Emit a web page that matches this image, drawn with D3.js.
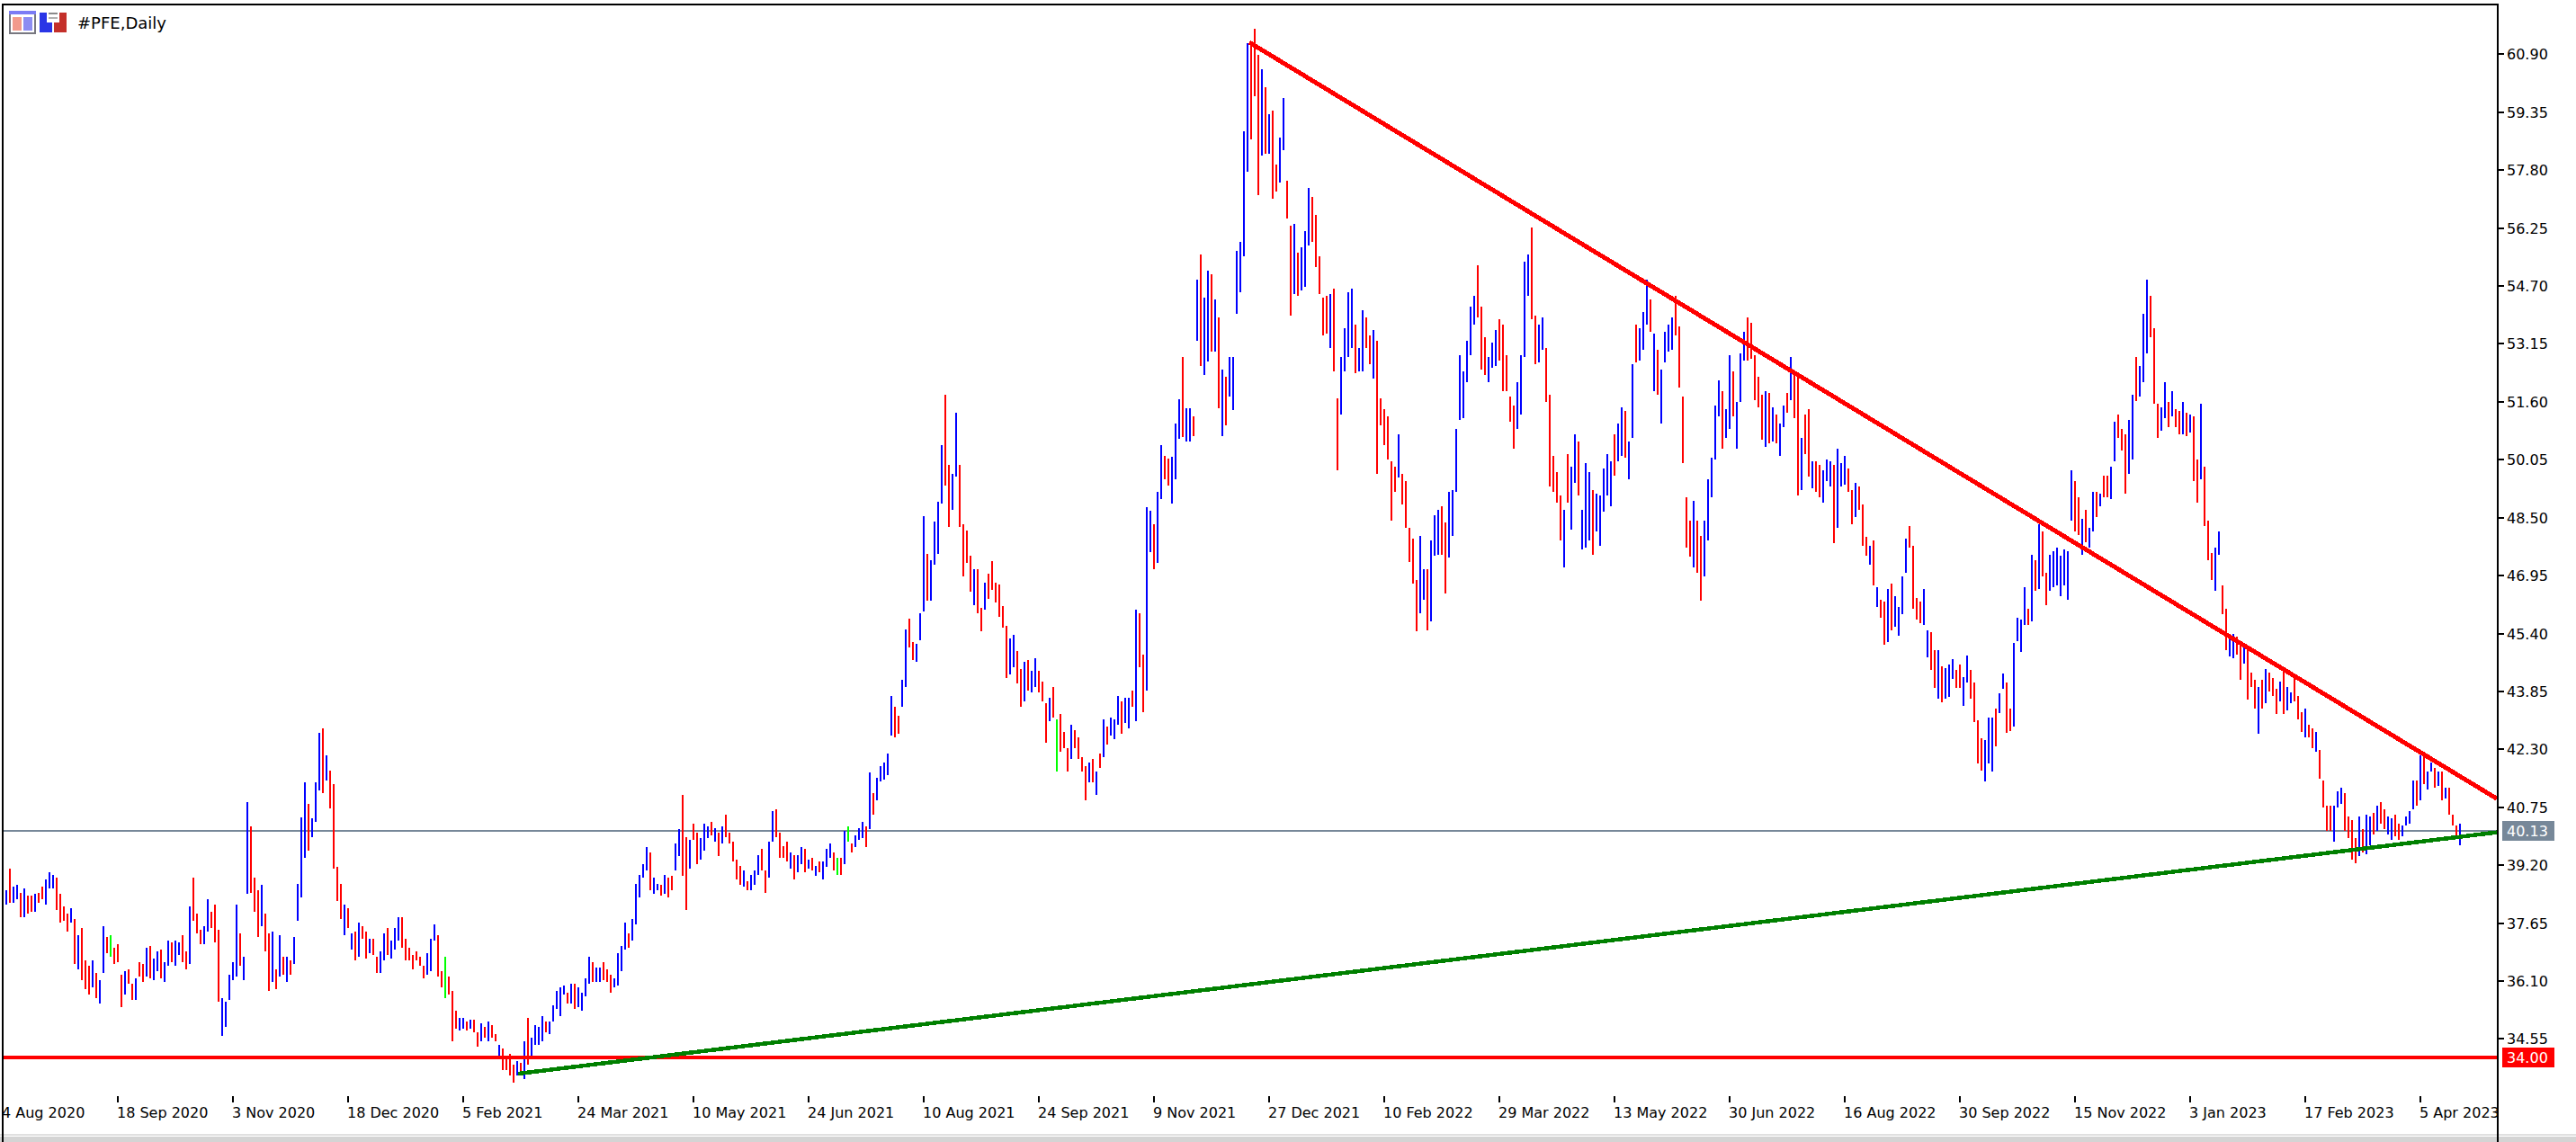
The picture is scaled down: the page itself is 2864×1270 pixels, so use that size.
<!DOCTYPE html>
<html>
<head>
<meta charset="utf-8">
<title>#PFE,Daily</title>
<script src="https://cdn.jsdelivr.net/npm/d3@7"></script>
<style>
    html, body { margin: 0; padding: 0; background: #fff; overflow: hidden; }
    svg { display: block; }
    text { font-family: "DejaVu Sans", sans-serif; font-size: 16px; fill: #000; }
</style>
</head>
<body>
<svg width="2864" height="1270"></svg>
<script>
// **** Values ****

const chartTitle = '#PFE,Daily';

const dateLabels = ['4 Aug 2020', '18 Sep 2020', '3 Nov 2020', '18 Dec 2020', '5 Feb 2021', '24 Mar 2021',
    '10 May 2021', '24 Jun 2021', '10 Aug 2021', '24 Sep 2021', '9 Nov 2021', '27 Dec 2021', '10 Feb 2022',
    '29 Mar 2022', '13 May 2022', '30 Jun 2022', '16 Aug 2022', '30 Sep 2022', '15 Nov 2022', '3 Jan 2023',
    '17 Feb 2023', '5 Apr 2023'];
const barsPerDateLabel = 32;

const priceTicks = [60.90, 59.35, 57.80, 56.25, 54.70, 53.15, 51.60, 50.05, 48.50, 46.95, 45.40, 43.85,
    42.30, 40.75, 39.20, 37.65, 36.10, 34.55];

const lastPrice = 40.13;
const supportLevel = 34.05;
const supportLabel = '34.00';

const resistanceLine = [{bar: 346.5, price: 61.22}, {bar: 693.25, price: 40.98}];
const risingLine = [{bar: 143.2, price: 33.62}, {bar: 693.25, price: 40.08}];

// u = up bar, d = down bar, n = unchanged bar (ten bars a row)
const barDir = [
    'uuduududdu', 'dduuuddddu', 'duddduduud', 'nddduddudd', 'uduuduuduu', 'ddudd'+'duudd', 'duuuuuduud', 'ddudd'+'ududu',
    'duuuuduuud', 'uddddududu', 'ddudduuduu', 'uddddddduu', 'uddnddduud', 'uddududdud', 'dddududuuu', 'uduuuuudud',
    'uuuuduuddd', 'uuuuduuuuu', 'duududduud', 'duddu'+'uudud', 'uddddd'+'uduu', 'uddu'+'uddddu', 'duudu'+'duduu', 'udndu'+'nduuu',
    'duduu'+'uuudd', 'uuddu'+'uuduu', 'uuddu'+'udddd', 'uddud'+'ddddd', 'uuddu'+'duudd', 'dudnd'+'ddudd', 'ddudu'+'duduu', 'uduud'+'udduu',
    'duudd'+'uuudu', 'ududu'+'ududu', 'duuuu'+'uuddd', 'ududd'+'uuddu', 'duuud'+'ddddu', 'dduuu'+'uduud', 'duddd'+'dddud', 'ddddu'+'uduuu',
    'dduuu'+'uuuuu', 'ddduu'+'udddd', 'duuuu'+'dduud', 'ddddu'+'duudu', 'uuduu'+'uuudu', 'uduud'+'uuudu', 'duuuu'+'ddddd', 'udduu'+'uuudu',
    'uduuu'+'ddddd', 'ududu'+'ududd', 'uddud'+'duuud', 'uuudd'+'udddu', 'duddu'+'duuuu', 'ddddu'+'uddud', 'uuudd'+'uuddd', 'duuud'+'uuddu',
    'uuudu'+'duddu', 'uuuuu'+'uddud', 'uudud'+'duudd', 'duudu'+'uuddd', 'uudud'+'dudud', 'duddd'+'uuddu', 'uddud'+'ddudu', 'dddud'+'uuddd',
    'uddud'+'ddduu', 'udddd'+'uduud', 'udduu'+'dduuu', 'ududu'+'ududu', 'dddu'
].join('').split('');

const barHigh = [
    39.00,38.52,39.10,38.62,38.67,38.47,38.57,38.38,38.38,38.43,
    38.47,38.62,38.81,39.00,38.95,38.86,38.43,38.09,37.90,38.04,
    37.75,37.32,37.51,36.65,36.50,36.65,36.31,36.12,37.56,37.27,
    37.32,36.98,37.08,36.26,36.36,36.41,36.02,36.17,36.60,36.55,
    36.98,37.03,36.70,36.89,36.94,36.60,37.18,37.13,37.18,37.13,
    37.32,36.89,38.09,38.86,37.90,37.46,37.56,38.28,37.95,38.14,
    37.46,35.64,35.54,36.26,36.60,38.14,37.37,36.74,40.88,40.25,
    38.86,38.52,38.67,37.90,37.37,37.42,36.41,37.32,36.74,36.74,
    36.65,37.27,38.71,40.49,41.41,40.83,40.45,41.41,42.75,42.85,
    42.13,41.74,41.36,39.15,38.71,38.14,38.04,37.37,37.42,37.66,
    37.56,37.42,37.22,37.22,36.74,36.89,37.37,37.51,37.18,37.51,
    37.80,37.80,37.22,36.98,36.79,36.89,36.74,36.50,36.84,37.22,
    37.61,37.32,36.36,36.74,36.21,35.83,35.30,35.11,35.11,35.01,
    35.06,35.06,34.72,34.96,34.87,35.01,34.92,34.68,34.39,34.29,
    34.05,34.15,33.86,33.95,33.91,34.48,35.11,34.58,34.92,34.87,
    35.16,35.01,35.01,35.44,35.83,35.93,35.97,35.78,36.02,36.02,
    35.93,35.78,36.17,36.74,36.60,36.45,36.45,36.60,36.41,36.26,
    36.17,36.84,37.03,37.66,37.37,37.75,38.71,38.95,39.24,39.68,
    39.53,38.86,38.71,38.67,38.95,38.86,38.91,39.77,40.16,41.07,
    39.96,39.87,40.30,40.06,39.92,40.30,40.25,40.35,40.20,40.06,
    40.25,40.54,40.06,39.82,39.34,39.19,39.05,38.76,38.95,39.05,
    39.48,39.63,39.05,39.82,40.64,40.69,40.06,39.72,39.82,39.53,
    39.48,39.48,39.68,39.63,39.34,39.39,39.19,39.29,39.29,39.63,
    39.77,39.53,39.39,39.39,40.11,40.25,39.77,40.01,40.20,40.35,
    40.25,41.69,41.12,41.55,41.84,41.94,42.18,43.73,43.44,43.19,
    44.16,45.50,45.79,45.17,45.12,45.93,48.53,47.52,47.37,48.39,
    48.92,50.45,51.80,49.92,49.68,51.32,49.92,48.33,48.15,47.48,
    47.13,47.13,46.08,46.76,47.00,47.33,46.76,46.70,46.13,45.60,
    45.26,45.36,44.93,44.45,44.64,44.69,44.40,44.73,44.40,44.11,
    43.53,43.68,43.97,43.10,43.25,42.77,42.33,42.95,42.81,42.62,
    42.09,41.85,41.95,42.04,41.71,42.19,43.10,42.91,43.15,43.10,
    43.73,43.58,43.68,43.68,43.87,46.03,45.93,44.83,48.77,48.68,
    48.33,49.20,50.45,50.16,50.07,50.12,51.03,51.66,52.81,51.42,
    51.42,51.22,54.88,55.55,54.40,55.12,55.02,54.35,53.87,52.47,
    52.28,52.81,52.81,55.65,55.89,58.85,61.21,61.25,61.59,60.88,
    60.49,60.01,59.29,59.39,57.94,58.66,59.72,57.51,56.31,56.35,
    55.59,55.74,56.16,57.32,57.08,56.60,55.49,54.39,54.43,54.48,
    54.62,51.69,52.80,53.57,54.53,54.62,53.66,53.04,54.05,53.86,
    53.38,53.52,53.23,51.69,51.41,51.21,50.01,49.87,50.73,49.68,
    49.48,48.23,47.95,46.84,48.00,47.13,47.13,47.90,48.57,48.72,
    48.81,48.38,49.20,49.24,50.88,52.84,52.42,53.23,54.15,54.43,
    55.25,54.15,53.33,52.80,53.19,53.52,53.81,53.66,52.84,51.74,
    51.50,52.12,52.84,55.35,55.55,56.26,53.91,53.66,53.86,53.04,
    51.79,50.15,49.73,49.10,48.71,50.20,49.87,50.73,50.54,48.71,
    49.96,49.73,49.24,49.15,49.10,49.82,50.20,50.01,50.73,51.02,
    51.46,51.36,50.54,52.61,53.66,53.57,54.00,54.86,54.34,53.42,
    53.00,52.46,53.47,53.66,53.86,54.43,53.61,51.74,49.05,48.42,
    48.96,48.42,48.00,48.42,49.53,50.10,51.50,52.18,51.88,51.41,
    52.84,52.42,51.60,52.89,53.47,53.86,53.71,52.84,52.27,51.79,
    51.88,51.84,51.46,51.26,51.02,51.50,51.84,52.80,52.42,52.32,
    50.63,51.26,51.40,50.01,50.01,49.92,49.77,50.06,50.01,49.92,
    50.34,49.96,50.16,49.82,49.24,49.44,49.33,48.85,47.99,47.75,
    47.89,46.64,46.31,46.26,46.60,46.73,46.40,46.11,46.93,47.94,
    48.28,47.75,46.36,46.26,46.60,45.49,45.44,44.96,44.96,44.52,
    44.48,44.58,44.72,44.43,44.58,44.24,44.82,44.43,44.10,43.08,
    42.60,42.55,43.14,43.14,43.38,43.80,44.34,44.10,43.38,45.15,
    45.83,45.78,46.64,46.07,47.51,47.36,48.33,48.13,47.03,47.51,
    47.61,47.71,47.47,47.65,47.61,49.77,49.48,49.05,48.47,48.72,
    48.23,49.20,49.20,49.14,49.62,49.62,49.86,51.06,51.26,50.88,
    50.74,51.12,51.79,52.81,52.56,53.95,54.87,54.43,53.57,51.55,
    51.45,52.13,51.60,51.89,51.41,51.36,51.60,51.31,51.26,51.21,
    50.06,51.55,49.86,48.42,47.56,47.71,48.13,46.69,46.07,45.26,
    45.40,45.31,45.16,45.02,44.97,44.35,44.15,43.96,44.15,44.44,
    44.35,44.20,43.91,44.11,44.44,43.96,43.82,44.20,43.72,43.29,
    43.38,42.95,42.85,42.76,42.28,41.46,40.79,40.79,40.79,41.17,
    41.27,41.12,40.50,40.40,39.92,40.50,40.16,40.55,40.50,40.60,
    40.79,40.88,40.69,40.50,40.45,40.55,40.31,40.26,40.50,40.64,
    41.46,41.46,42.13,42.09,41.70,41.94,41.80,41.70,41.70,41.27,
    41.27,40.55,40.26,40.31
];

const barLow = [
    38.50,38.14,38.19,38.19,38.28,37.80,37.80,37.90,37.95,37.95,
    38.19,38.28,38.14,38.57,38.57,37.99,37.66,37.70,37.42,37.66,
    36.55,36.41,36.12,35.88,35.73,35.93,35.64,35.49,36.31,36.84,
    36.74,36.55,36.60,35.40,35.73,36.02,35.59,35.59,36.21,36.07,
    36.21,36.17,36.12,36.36,36.17,36.07,36.50,36.60,36.50,36.79,
    36.60,36.41,36.55,37.70,37.37,37.08,37.08,37.42,37.51,37.13,
    35.54,34.63,34.87,35.59,36.12,36.21,36.50,36.12,38.43,38.47,
    37.95,37.27,37.56,36.89,35.83,36.07,35.88,36.21,36.26,36.07,
    36.26,36.55,37.70,38.33,39.39,39.58,39.96,40.35,41.21,41.12,
    41.46,40.73,39.10,38.23,37.75,37.32,37.51,36.94,36.65,36.74,
    37.22,36.70,36.84,36.79,36.31,36.31,36.65,36.79,36.70,36.94,
    37.18,36.98,36.65,36.65,36.41,36.65,36.50,36.17,36.26,36.36,
    37.18,36.21,35.93,35.64,35.73,34.48,34.82,34.77,34.82,34.77,
    34.82,34.72,34.34,34.48,34.58,34.48,34.58,34.48,34.10,33.71,
    33.71,33.57,33.38,33.57,33.67,33.47,33.86,34.05,34.39,34.39,
    34.48,34.72,34.68,35.01,35.35,35.16,35.73,35.49,35.49,35.35,
    35.40,35.30,35.69,36.02,36.07,36.07,36.07,36.12,36.07,35.78,
    35.93,35.97,36.36,36.94,36.98,37.18,37.61,38.33,38.86,39.05,
    38.52,38.43,38.52,38.38,38.43,38.33,38.52,39.05,39.44,38.91,
    37.99,39.10,39.87,39.24,39.34,39.58,39.92,40.01,39.82,39.44,
    39.77,39.96,39.77,39.29,38.81,38.67,38.62,38.52,38.52,38.67,
    38.95,39.05,38.47,38.86,39.82,39.96,39.39,39.39,39.29,39.10,
    38.81,39.00,39.24,39.00,39.10,39.05,38.91,39.00,38.81,39.15,
    39.39,39.05,38.95,38.95,39.24,39.82,39.53,39.68,39.87,39.92,
    39.68,40.16,40.54,40.93,41.45,41.50,41.60,42.67,42.62,42.71,
    43.44,43.97,45.02,44.69,44.64,45.21,45.98,46.28,46.28,47.24,
    47.52,48.87,49.35,48.24,48.72,49.59,48.24,46.94,47.28,46.51,
    46.17,45.93,45.45,46.03,46.32,46.56,46.22,45.84,45.55,44.21,
    44.30,44.49,44.06,43.44,43.58,43.87,43.82,43.97,43.82,43.58,
    42.47,43.05,43.15,41.71,42.23,42.33,41.71,42.04,42.33,42.04,
    41.71,40.94,41.42,41.42,41.08,41.80,42.09,42.43,42.67,42.57,
    42.95,42.71,43.01,42.86,43.44,43.05,44.49,43.29,43.87,47.57,
    47.13,47.28,49.01,49.53,49.35,48.87,49.53,50.60,50.65,50.55,
    50.55,50.69,53.24,52.57,52.33,52.67,52.95,52.95,51.42,50.69,
    50.98,51.75,51.37,53.96,54.54,55.49,57.75,58.62,59.78,57.12,
    58.20,58.25,58.25,57.03,57.23,57.47,58.33,56.51,53.91,54.48,
    54.43,54.58,54.68,55.78,55.88,55.20,54.48,53.38,53.42,53.04,
    52.42,49.77,51.26,52.42,52.80,53.04,52.37,52.42,52.42,53.04,
    52.61,52.23,49.68,50.97,50.45,50.06,48.42,49.19,49.57,48.86,
    48.23,47.32,46.74,45.45,45.93,46.31,45.49,45.73,47.47,47.51,
    47.51,46.46,47.43,48.01,49.19,51.11,51.16,52.12,52.84,53.66,
    53.86,52.46,52.32,52.12,52.51,52.56,52.70,51.88,51.88,51.07,
    50.34,50.88,51.26,52.80,54.43,53.81,52.61,52.65,53.00,51.60,
    49.34,49.19,48.91,47.89,47.18,48.91,48.19,49.43,49.10,47.66,
    47.71,47.89,47.51,48.14,47.75,48.66,49.10,48.81,49.63,50.01,
    50.15,50.10,49.53,50.64,52.65,52.70,53.00,53.66,53.47,51.88,
    51.79,51.02,52.65,52.94,53.00,53.38,51.98,49.96,47.70,47.46,
    47.18,47.03,46.27,46.93,47.89,49.05,50.06,51.21,50.34,50.64,
    50.88,51.21,50.34,51.60,52.70,52.70,52.75,51.65,51.46,50.59,
    50.39,50.49,50.54,50.49,50.15,50.92,51.31,51.65,51.16,49.10,
    49.25,50.20,49.59,49.29,49.20,49.05,48.91,49.48,49.33,47.81,
    48.23,49.33,49.38,49.20,48.33,48.52,48.72,47.75,47.47,47.23,
    46.69,46.12,45.83,45.11,45.16,45.49,45.59,45.35,45.92,47.03,
    47.71,46.07,45.78,45.68,45.63,44.77,44.43,43.95,43.66,43.56,
    43.66,43.71,44.19,43.95,43.95,43.47,44.10,43.66,43.03,41.93,
    41.74,41.45,41.93,41.70,42.37,43.27,43.91,42.75,42.79,42.90,
    45.20,44.91,45.63,45.63,45.73,46.55,46.60,46.93,46.16,46.55,
    46.64,46.69,46.40,46.69,46.31,48.42,48.13,48.04,47.51,47.85,
    47.71,48.13,48.52,48.81,49.05,49.05,49.00,50.01,50.63,50.30,
    49.14,49.68,50.06,51.61,51.74,52.13,52.90,53.34,51.55,50.63,
    50.82,51.17,50.93,51.21,50.93,50.73,50.73,50.69,50.78,49.48,
    48.90,49.53,48.28,47.36,46.84,46.55,47.51,45.92,44.96,44.78,
    44.73,44.83,44.15,44.59,43.62,43.96,43.38,42.71,43.38,43.53,
    43.86,43.72,43.24,43.58,43.24,43.34,43.53,43.58,43.10,42.76,
    42.61,42.61,42.33,42.23,41.51,40.74,40.11,40.11,39.83,40.74,
    40.84,40.11,39.92,39.35,39.25,39.44,39.54,39.49,39.73,40.02,
    40.11,40.31,40.16,40.02,39.87,39.97,39.87,39.97,40.26,40.31,
    40.69,40.79,40.93,41.36,41.22,41.70,41.27,41.32,40.93,40.98,
    40.55,40.26,39.89,39.73
];

const bars = barHigh.map((high, i) => ({index: i, high: high, low: barLow[i], dir: barDir[i]}));

// **** Scales ****

const barScale = d3.scaleLinear().domain([0, 683]).range([3, 2735]);
const priceScale = d3.scaleLinear().domain([34.55, 60.90]).range([1155.4, 60.4]);
const dirColor = {u: '#0000ff', d: '#ff0000', n: '#00ff00'};

const svg = d3.select('svg');

// **** Window strip at the bottom ****

svg.append('rect').attr('x', 0).attr('y', 1261).attr('width', 2864).attr('height', 2).attr('fill', '#e0e0e0');
svg.append('rect').attr('x', 0).attr('y', 1264).attr('width', 2864).attr('height', 6).attr('fill', '#d4d4d4');

// **** Last price line goes behind the bars ****

svg.append('line')
    .attr('x1', 4).attr('x2', 2776)
    .attr('y1', priceScale(lastPrice)).attr('y2', priceScale(lastPrice))
    .attr('stroke', '#778899').attr('stroke-width', 2)
    .attr('shape-rendering', 'crispEdges');

// **** Bars ****

svg.append('g').selectAll('line')
    .data(bars)
    .join('line')
    .attr('x1', d => barScale(d.index))
    .attr('x2', d => barScale(d.index))
    .attr('y1', d => priceScale(d.high))
    .attr('y2', d => priceScale(d.low))
    .attr('stroke', d => dirColor[d.dir])
    .attr('stroke-width', 2)
    .attr('shape-rendering', 'crispEdges');

// **** Drawn objects ****

svg.append('line')
    .attr('x1', 4).attr('x2', 2776)
    .attr('y1', priceScale(supportLevel)).attr('y2', priceScale(supportLevel))
    .attr('stroke', '#ff0000').attr('stroke-width', 4)
    .attr('shape-rendering', 'crispEdges');

const trend = d3.line().x(d => barScale(d.bar)).y(d => priceScale(d.price));

svg.append('path').attr('d', trend(risingLine))
    .attr('fill', 'none').attr('stroke', '#008000').attr('stroke-width', 4.5)
    .attr('shape-rendering', 'crispEdges');

svg.append('path').attr('d', trend(resistanceLine))
    .attr('fill', 'none').attr('stroke', '#ff0000').attr('stroke-width', 5)
    .attr('shape-rendering', 'crispEdges');

// **** Axes ****

const xAxis = d3.axisBottom(barScale)
    .tickValues(dateLabels.map((d, i) => i * barsPerDateLabel))
    .tickFormat((d, i) => dateLabels[i])
    .tickSize(7).tickSizeOuter(0).offset(0);

const xAxisG = svg.append('g').attr('class', 'x axis')
    .attr('transform', 'translate(0,1219)')
    .call(xAxis);
xAxisG.select('.domain').remove();
xAxisG.selectAll('line').attr('stroke', '#000').attr('stroke-width', 2).attr('shape-rendering', 'crispEdges');
xAxisG.selectAll('text')
    .attr('font-family', null).attr('font-size', null)
    .attr('text-anchor', 'start').attr('x', -1).attr('y', 24).attr('dy', null);

const yAxis = d3.axisRight(priceScale)
    .tickValues(priceTicks)
    .tickFormat(d3.format('.2f'))
    .tickSize(6).tickSizeOuter(0).offset(0);

const yAxisG = svg.append('g').attr('class', 'y axis')
    .attr('transform', 'translate(2778,0)')
    .call(yAxis);
yAxisG.select('.domain').remove();
yAxisG.selectAll('line').attr('stroke', '#000').attr('stroke-width', 2).attr('shape-rendering', 'crispEdges');
yAxisG.selectAll('text')
    .attr('font-family', null).attr('font-size', null)
    .attr('x', 9).attr('dy', '6');

// **** Plot frame ****

svg.append('rect')
    .attr('x', 3).attr('y', 5).attr('width', 2774).attr('height', 2213)
    .attr('fill', 'none').attr('stroke', '#000').attr('stroke-width', 2)
    .attr('shape-rendering', 'crispEdges');

// **** Price badges on the right ****

function badge(price, label, color) {
    const y = priceScale(price);
    svg.append('rect')
        .attr('x', 2782).attr('y', y - 11).attr('width', 58).attr('height', 22)
        .attr('fill', color).attr('shape-rendering', 'crispEdges');
    svg.append('text')
        .attr('x', 2787).attr('y', y + 6)
        .style('fill', '#fff')
        .text(label);
}

badge(lastPrice, d3.format('.2f')(lastPrice), '#778899');
badge(supportLevel, supportLabel, '#ff0000');

// **** Title with its two small icons ****

const icon = svg.append('g').attr('shape-rendering', 'crispEdges');

function iconRect(x, y, w, h, color) {
    icon.append('rect').attr('x', x).attr('y', y).attr('width', w).attr('height', h).attr('fill', color);
}

iconRect(10, 12, 30, 26, '#77777f');
iconRect(12, 14, 26, 22, '#ffffff');
iconRect(10, 12, 30, 4, '#7b7bf5');
iconRect(14, 19, 10, 15, '#f29a8c');
iconRect(26, 19, 10, 15, '#8c8cf2');
iconRect(44, 14, 8, 22, '#2a35e6');
iconRect(44, 25, 14, 11, '#2a35e6');
iconRect(66, 14, 8, 22, '#c4302a');
iconRect(60, 25, 14, 11, '#c4302a');
iconRect(54, 14, 10, 2, '#8a8a8a');
iconRect(54, 19, 10, 2, '#b0b0b0');

svg.append('text')
    .attr('x', 86).attr('y', 32)
    .style('font-size', '18px')
    .text(chartTitle);
</script>
</body>
</html>
